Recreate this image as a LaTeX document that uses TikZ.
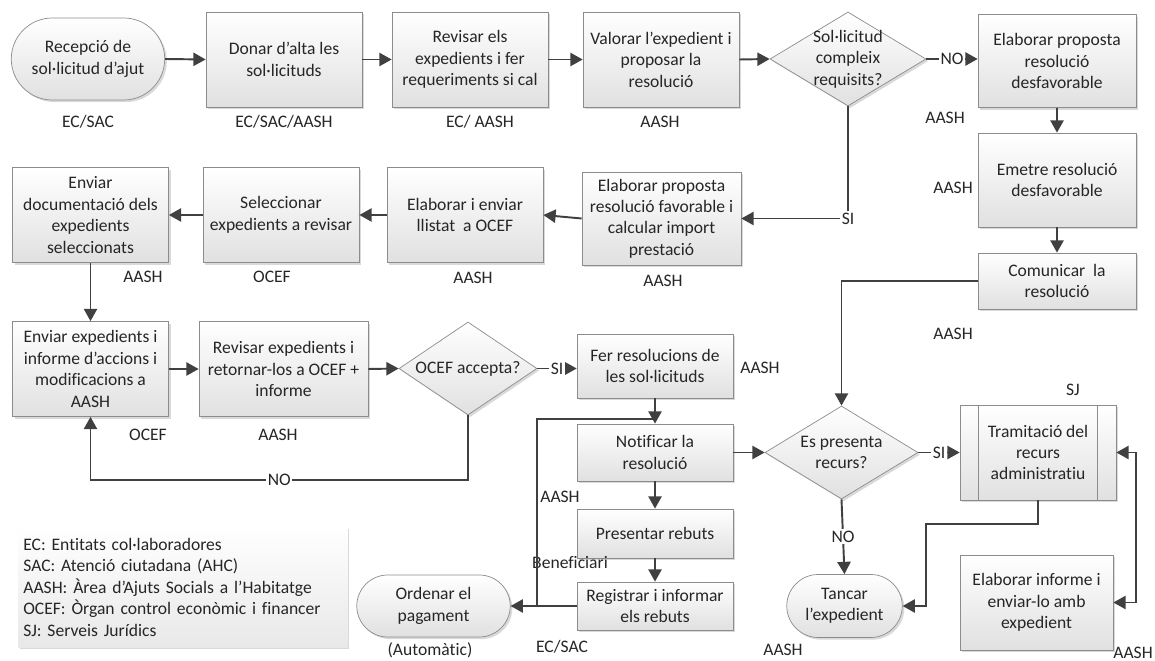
\documentclass[tikz,border=0pt]{standalone}
\usepackage{fontspec}
\setmainfont[Ligatures=NoCommon]{Carlito}
\usetikzlibrary{arrows.meta,positioning,shapes.geometric,shapes.misc,shadows}

\begin{document}
\begin{tikzpicture}[x=0.02cm,y=-0.02cm,font=\fontsize{10}{12.2}\selectfont,text=black!85,
  shade/.style={drop shadow={shadow xshift=1.2pt,shadow yshift=-1.2pt,opacity=0.25,fill=black!60}},
  box/.style={shade,draw=black!45,top color=white,bottom color=black!12,minimum width=3.12cm,minimum height=1.9cm,align=center,inner sep=1pt},
  term/.style={box,rounded rectangle,minimum width=3.14cm,minimum height=1.64cm},
  decision/.style={shade,diamond,draw=black!45,top color=white,bottom color=black!12,minimum width=3.12cm,minimum height=1.88cm,inner sep=0pt},
  con/.style={draw=black!75,line width=1.1pt},
  arr/.style={con,-{Triangle[length=7pt,width=7.5pt]}},
  yn/.style={fill=white,inner sep=1pt},
  role/.style={inner sep=1pt},
  legend/.style={shade,top color=white,bottom color=black!9,minimum height=2.4cm,text width=6.38cm,align=left,inner xsep=0.1cm}]
\useasboundingbox (0,0) rectangle (1155,661);
% top row
\node[term] (rec) at (88,59) {Recepció de\\sol·licitud d’ajut};
\node[box] (alta) at (284,59.5) {Donar d’alta les\\sol·licituds};
\node[box] (revisar) at (470,59.5) {Revisar els\\expedients i fer\\requeriments si cal};
\node[box] (valorar) at (661,59.5) {Valorar l’expedient i\\proposar la\\resolució};
\node[decision,label={[name=d1t,align=center]center:Sol·licitud\\compleix\\requisits?}] (d1) at (848,59) {};
\node[box,minimum width=3.16cm,minimum height=1.86cm] (desf) at (1057,61) {Elaborar proposta\\resolució\\desfavorable};
\node[box,minimum width=3.16cm,minimum height=1.88cm] (emetre) at (1057,180) {Emetre resolució\\desfavorable};
\node[box,minimum width=3.16cm,minimum height=1.12cm] (comunicar) at (1057,281) {Comunicar\ \ la\\resolució};
% second row
\node[box,minimum width=3.18cm,minimum height=1.86cm] (fav) at (661.5,218.5) {Elaborar proposta\\resolució favorable i\\calcular import\\prestació};
\node[box] (llistat) at (465,215) {Elaborar i enviar\\llistat\ \ a OCEF};
\node[box] (selecc) at (281,215) {Seleccionar\\expedients a revisar};
\node[box] (envdoc) at (90.5,215) {Enviar\\documentació dels\\expedients\\seleccionats};
% third row
\node[box] (envexp) at (90.5,369) {Enviar expedients i\\informe d’accions i\\modificacions a\\AASH};
\node[box,minimum width=3.38cm] (revret) at (283.5,369) {Revisar expedients i\\retornar-los a OCEF +\\informe};
\node[decision,minimum width=2.76cm,minimum height=1.86cm,label={[name=d2t]center:OCEF accepta?}] (d2) at (468,368.5) {};
\node[box,minimum height=1.28cm] (fer) at (655,366) {Fer resolucions de\\les sol·licituds};
\node[box,minimum height=1.14cm] (notif) at (655,452.5) {Notificar la\\resolució};
\node[box,minimum height=0.98cm] (present) at (655,533.5) {Presentar rebuts};
\node[box,minimum height=0.96cm] (regist) at (655,606) {Registrar i informar\\els rebuts};
\node[term,minimum height=1.24cm] (ordenar) at (433.5,606) {Ordenar el\\pagament};
\node[decision,minimum width=3.06cm,minimum height=1.86cm,label={[name=d3t,align=center]center:Es presenta\\recurs?}] (d3) at (841.5,452.5) {};
\node[box] (tram) at (1038,452.5) {Tramitació del\\recurs\\administratiu};
\draw[black!45] ([xshift=0.38cm]tram.north west) -- ([xshift=0.38cm]tram.south west);
\draw[black!45] ([xshift=-0.38cm]tram.north east) -- ([xshift=-0.38cm]tram.south east);
\node[term,minimum width=2.38cm,minimum height=1.26cm] (tancar) at (844.5,606) {Tancar\\l’expedient};
\node[box,minimum width=3.06cm] (informe) at (1036.5,602.5) {Elaborar informe i\\enviar-lo amb\\expedient};
% roles
\node[role] (r1) at (88,122) {EC/SAC};
\node[role] (r2) at (284,122) {EC/SAC/AASH};
\node[role] (r3) at (480,122) {EC/ AASH};
\node[role] (r4) at (660,122) {AASH};
\node[role] (r5) at (945,118) {AASH};
\node[role] (r6) at (953,188) {AASH};
\node[role] (r7) at (953,334) {AASH};
\node[role] (r8) at (663,281) {AASH};
\node[role] (r9) at (473,278) {AASH};
\node[role] (r10) at (272,277) {OCEF};
\node[role] (r11) at (143,277) {AASH};
\node[role] (r12) at (148,435) {OCEF};
\node[role] (r13) at (278,435) {AASH};
\node[role] (r14) at (760,368) {AASH};
\node[role] (r15) at (560,497) {AASH};
\node[role] (r16) at (570,563) {Beneficiari};
\node[role] (r17) at (562,647) {EC/SAC};
\node[role] (r18) at (430,650) {(Automàtic)};
\node[role] (r19) at (1073,390) {SJ};
\node[role] (r20) at (783,650) {AASH};
\node[role] (r21) at (1133,653) {AASH};
% legend
\node[legend,anchor=north west] (leg) at (18,527) {EC: Entitats col·laboradores\\SAC: Atenció ciutadana (AHC)\\AASH: Àrea d’Ajuts Socials a l’Habitatge\\OCEF: Òrgan control econòmic i financer\\SJ: Serveis Jurídics};
% connectors
\draw[arr] (rec.east) -- (alta.west);
\draw[arr] (alta.east) -- (revisar.west);
\draw[arr] (revisar.east) -- (valorar.west);
\draw[arr] (valorar.east) -- (d1.west);
\draw[arr] (d1.east) -- node[yn]{NO} (d1.east -| desf.west);
\draw[arr] (desf.south) -- (emetre.north);
\draw[arr] (emetre.south) -- (comunicar.north);
\draw[arr] (comunicar.west) -| (d3.north);
\draw[arr] (d1.south) |- node[yn]{SI} (fav.east);
\draw[arr] (fav.west) -- (llistat.east);
\draw[arr] (llistat.west) -- (selecc.east);
\draw[arr] (selecc.west) -- (envdoc.east);
\draw[arr] (envdoc.south) -- (envexp.north);
\draw[arr] (envexp.east) -- (revret.west);
\draw[arr] (revret.east) -- (d2.west);
\draw[arr] (d2.east) -- node[yn]{SI} (d2.east -| fer.west);
\draw[arr] (d2.south) -- ++(0,65) -| node[yn,pos=0.25]{NO} (envexp.south);
\draw[arr] (fer.south) -- (notif.north);
\draw[arr] (notif.south) -- (present.north);
\draw[arr] (present.south) -- (regist.north);
\draw[arr] (regist.west) -- (ordenar.east);
\coordinate (join) at (655,419);
\draw[con] (regist.west) -- ++(-40,0) |- (join);
\draw[arr] (notif.east) -- (d3.west);
\draw[arr] (d3.east) -- node[yn]{SI} (tram.west);
\draw[arr] (d3.south) -- node[yn]{NO} (tancar.north);
\draw[arr] (tram.south) -- ++(0,24) -| ([xshift=0.46cm]tancar.east) -- (tancar.east);
\draw[con,{Triangle[length=7pt,width=7.5pt]}-{Triangle[length=7pt,width=7.5pt]}] (informe.east) -- ++(23,0) |- (tram.east);
\end{tikzpicture}
\end{document}
